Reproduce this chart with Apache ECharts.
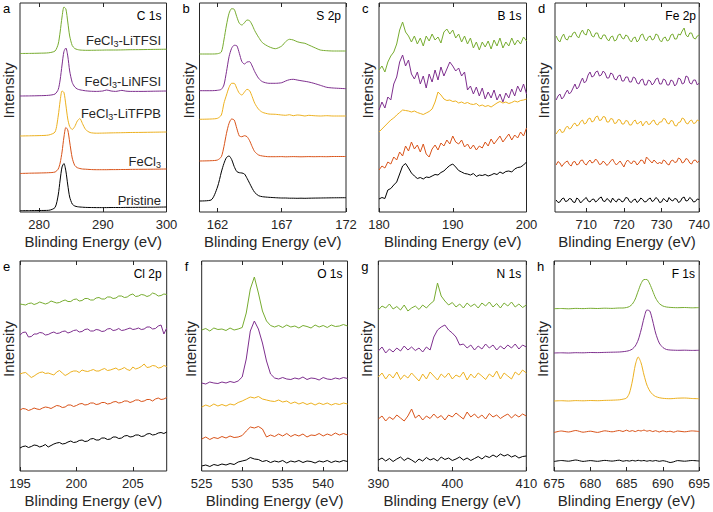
<!DOCTYPE html>
<html><head><meta charset="utf-8">
<script src="https://cdn.jsdelivr.net/npm/echarts@6/dist/echarts.min.js"></script>
<style>html,body{margin:0;padding:0;background:#fff}#c{width:713px;height:512px}</style>
</head><body><div id="c"></div>
<script>
// ---- series identity ----
const seriesNames = ['Pristine', 'FeCl3', 'FeCl3-LiTFPB', 'FeCl3-LiNFSI', 'FeCl3-LiTFSI'];
const seriesColors = ['#000000', '#D95319', '#EDB120', '#7E2F8E', '#77AC30'];

// ---- panel a : C 1s ----
const aTicks = [280, 290, 300];
const aEnergy = [277, 278.5, 280, 281.5, 282.5, 283, 283.3, 283.6, 283.9, 284.2, 284.5, 284.8, 285.2, 285.6, 286, 286.4, 286.8, 287.3, 288, 289, 290, 290.6, 291.3, 292, 293, 293.6, 294.3, 296, 298, 300];
const aPristine = [1.3, 1.4, 1.5, 1.7, 4.5, 17, 32, 45, 48.5, 41, 27, 15, 8, 6, 5.3, 5, 4.8, 4.6, 4.5, 4.4, 4.4, 4.4, 4.5, 4.5, 4.5, 4.6, 4.6, 4.7, 4.8, 5];
const aFeCl3 = [38.5, 38.8, 39, 39.3, 40, 43, 49, 60, 75, 84.5, 82, 70, 54, 46.5, 44.3, 43.5, 43, 42.8, 42.5, 42.3, 42.3, 42.3, 42.4, 42.4, 42.5, 42.5, 42.6, 42.7, 42.8, 43];
const aTFPB = [76, 76.2, 76.4, 77, 80, 96, 111, 121, 119.5, 107, 93, 85.5, 82.5, 85.5, 91, 93.5, 88.5, 82.5, 79.5, 78.8, 78.9, 79, 79.1, 79.2, 79.3, 79.4, 79.5, 79.6, 79.8, 80];
const aNFSI = [116, 116.1, 116.3, 116.7, 118, 122.5, 132, 147, 160.5, 164, 156, 141, 129.5, 125, 123, 122.2, 121.7, 121.2, 120.8, 120.6, 121, 122, 121, 120.6, 121.6, 120.9, 120.6, 120.6, 120.8, 121];
const aTFSI = [158.5, 158.6, 158.8, 159.2, 161, 168, 180, 195, 205, 203, 190, 176, 166.5, 163.5, 162.5, 162, 161.8, 161.7, 161.7, 161.8, 161.9, 162, 162, 162, 162.1, 162.2, 162.3, 162.4, 162.6, 162.8];

// ---- panel b : S 2p ----
const bTicks = [162, 167, 172];
const bEnergy = [160.6, 161.5, 162.0, 162.3, 162.5, 162.7, 162.9, 163.1, 163.3, 163.5, 163.7, 163.9, 164.1, 164.3, 164.5, 164.7, 164.9, 165.2, 165.5, 166, 166.5, 167, 167.3, 167.6, 167.9, 168.2, 168.5, 168.8, 169.1, 169.5, 170, 170.5, 171, 172];
const bPristine = [11, 12, 25, 40, 48.5, 54.5, 56, 52.5, 45.5, 40.5, 39.3, 39, 38, 33.7, 28.7, 23.7, 19.5, 16.3, 15.3, 14.7, 14.3, 14, 14, 13.8, 13.8, 13.7, 13.8, 13.7, 13.8, 13.9, 14, 14.1, 14.2, 14.3];
const bFeCl3 = [51, 51.3, 52, 55.3, 65.3, 78.7, 88.7, 93, 92, 83.7, 76, 75.3, 76.3, 75.3, 71.3, 65.3, 60.3, 57, 56, 55.3, 55.3, 55.4, 55.2, 55.3, 55.4, 55.3, 55.2, 55.3, 55.4, 55.3, 55.4, 55.3, 55.5, 55.5];
const bTFPB = [92.7, 93, 93.7, 97, 108.7, 117, 124.7, 128.7, 128.7, 123.7, 118.7, 117, 120, 122.7, 121.3, 115.3, 108.7, 102.7, 99.7, 98, 97.7, 97, 96.7, 97.3, 96.3, 97, 96.7, 96, 96.7, 96.3, 96, 96.3, 96, 96];
const bNFSI = [121.3, 121.3, 121.7, 122.7, 127, 140.3, 155.3, 163.7, 166.7, 166.3, 158.7, 150.3, 148, 150, 150.3, 146, 140.3, 133.7, 130.3, 128.7, 128.7, 129.3, 131, 132.3, 132.7, 132, 131.3, 130.7, 130, 128.7, 126.7, 124.7, 124, 123.3];
const bTFSI = [158, 158, 158.3, 160, 172, 187, 198.7, 203.3, 202.7, 195.3, 188.7, 187, 189.3, 192, 191.3, 187, 181.3, 174.7, 169.3, 165.3, 163.3, 166, 170.3, 172.7, 172, 170.3, 169.3, 168.7, 167, 164.7, 162, 161.3, 161, 161];

// ---- panel c : B 1s ----
const cTicks = [180, 190, 200];
const cEnergy = [180, 180.4, 180.8, 181.2, 181.6, 182, 182.4, 182.8, 183.2, 183.6, 184, 184.4, 184.8, 185.2, 185.6, 186, 186.4, 186.8, 187.2, 187.6, 188, 188.4, 188.8, 189.2, 189.6, 190, 190.4, 190.8, 191.2, 191.6, 192, 192.4, 192.8, 193.2, 193.6, 194, 194.4, 194.8, 195.2, 195.6, 196, 196.4, 196.8, 197.2, 197.6, 198, 198.4, 198.8, 199.2, 199.6, 200];
const cPristine = [13, 14.5, 13.5, 22, 23.5, 27, 30, 38, 46, 48.5, 44, 39, 36, 33.5, 34.5, 33, 35, 34.5, 36, 37.5, 37, 39.5, 41, 44, 46.5, 48, 45, 41.5, 40, 38.5, 38, 37, 38.5, 35.5, 37, 36.5, 37.5, 36, 37, 38.5, 37.5, 40, 38.5, 40.5, 41, 40, 43, 44.5, 45, 47, 50];
const cFeCl3 = [42, 46, 44, 50, 48, 55, 52, 60, 56, 66, 61, 70, 63, 67, 60, 68, 58, 55, 63, 67, 62, 69, 66, 72, 68, 76, 70, 68, 72, 65, 68, 63, 67, 62, 66, 64, 70, 66, 73, 68, 72, 76, 70, 74, 78, 72, 77, 74, 80, 76, 84];
const cTFPB = [80, 83, 86, 89, 92, 94, 97, 99.5, 102, 101.5, 101, 100, 101, 99.5, 98.5, 97.5, 99, 100.5, 103, 110, 120, 117, 113, 111.5, 112, 110.5, 111, 109, 110, 108.5, 109.5, 108, 107.5, 108.5, 106, 107, 105.5, 106.5, 105, 107, 109, 110.5, 109, 110, 108.5, 109.5, 111, 110, 111.5, 112, 113];
const cNFSI = [102, 110, 104, 115, 112, 128, 135, 150, 157, 146, 152, 138, 133, 140, 128, 136, 124, 138, 130, 142, 132, 145, 136, 143, 150, 146, 141, 144, 136, 140, 122, 126, 118, 125, 116, 124, 113, 120, 114, 122, 112, 118, 110, 119, 114, 123, 116, 126, 120, 128, 118];
const cTFSI = [142, 146, 140, 150, 156, 160, 168, 182, 190, 180, 176, 170, 176, 168, 174, 166, 176, 171, 178, 172, 175, 169, 180, 183, 178, 182, 174, 178, 170, 176, 168, 174, 164, 170, 162, 170, 165, 171, 163, 172, 166, 174, 164, 170, 166, 174, 167, 172, 168, 175, 171];

// ---- panel d : Fe 2p ----
const dTicks = [710, 720, 730, 740];
const dEnergy = [702, 702.5, 703, 703.5, 704, 704.5, 705, 705.5, 706, 706.5, 707, 707.5, 708, 708.5, 709, 709.5, 710, 710.5, 711, 711.5, 712, 712.5, 713, 713.5, 714, 714.5, 715, 715.5, 716, 716.5, 717, 717.5, 718, 718.5, 719, 719.5, 720, 720.5, 721, 721.5, 722, 722.5, 723, 723.5, 724, 724.5, 725, 725.5, 726, 726.5, 727, 727.5, 728, 728.5, 729, 729.5, 730, 730.5, 731, 731.5, 732, 732.5, 733, 733.5, 734, 734.5, 735, 735.5, 736, 736.5, 737, 737.5, 738, 738.5, 739, 739.5, 740];
const dPristine = [12, 9.5, 10, 13, 14, 10.5, 11, 13.5, 13, 10, 9.5, 14, 12.5, 9, 11, 13, 14.5, 11, 10, 12.5, 13, 10, 11.5, 14, 15, 11, 10.5, 13.5, 12, 9.5, 14, 11.5, 10, 13, 12.5, 10, 11, 14.5, 14, 10.5, 9.5, 12, 13, 9.5, 11, 14, 12.5, 10, 10.5, 13, 14, 10.5, 11.5, 14.5, 13, 9.5, 10, 13.5, 12, 10, 14.5, 12, 11, 13.5, 13, 9.5, 10.5, 14, 15, 11, 11.5, 14.5, 13, 10, 10.5, 13, 12.5];
const dFeCl3 = [47, 50.5, 49, 45.5, 48, 50, 51, 47.5, 46, 50, 50.5, 47, 48, 51.5, 52, 48.5, 47, 50, 52, 49, 50, 53, 51, 47.5, 48, 51, 49, 46.5, 48.5, 51, 53, 49.5, 47, 49, 51, 48, 45, 49.5, 52, 50, 48, 51, 50.5, 47, 49, 52, 51.5, 48, 55, 53, 51, 49, 52, 50, 48, 50, 48, 52, 51, 48, 47, 51, 52, 49.5, 50, 54, 53, 49, 50, 53.5, 52.5, 49, 48, 51.5, 52, 49.5, 51];
const dTFPB = [78, 81, 83, 79.5, 80, 84, 86, 83, 84, 87.5, 89, 86, 87, 90.5, 92, 88, 89, 93, 94, 90, 91, 95, 96, 91.5, 92, 95.5, 95, 90, 90, 93.5, 93, 88.5, 89, 92.5, 92, 88, 88, 91.5, 91, 87, 87, 90.5, 92, 88, 89, 91, 86, 89, 91, 87.5, 88, 91, 92, 88, 87, 90, 90, 93.5, 93, 89, 88, 91.5, 91, 86.5, 86, 89.5, 90, 94, 93, 89, 88, 91, 92, 88.5, 89, 92, 91];
const dNFSI = [112, 116, 118, 113, 115, 119, 122, 118, 120, 124, 128, 123, 125, 130, 134, 129, 131, 137, 140, 135, 136, 140, 141, 136, 137, 141, 139, 134, 134, 139, 138, 133, 132, 136, 137, 131, 131, 135, 135, 130, 130, 135, 134, 129, 128, 132, 133, 127, 127, 132, 131, 127, 129, 133, 134, 128, 128, 133, 132, 127, 127, 132, 131, 126, 128, 134, 133, 128, 129, 136, 135, 129, 128, 132, 132, 127, 129];
const dTFSI = [176, 172, 170, 175, 178, 173, 172, 176, 175, 179, 180, 176, 174, 179, 182, 178, 177, 183, 181, 176, 175, 179, 179, 174, 173, 177, 177, 173, 171, 175, 176, 171, 172, 177, 178, 174, 173, 177, 176, 172, 170, 174, 175, 170, 172, 177, 178, 173, 171, 175, 176, 172, 173, 178, 177, 172, 170, 174, 175, 171, 172, 177, 178, 173, 173, 178, 177, 181, 184, 177, 175, 179, 179, 174, 173, 176, 177];

// ---- panel e : Cl 2p ----
const eTicks = [195, 200, 205];
const eEnergy = [195, 195.25, 195.5, 195.75, 196, 196.25, 196.5, 196.75, 197, 197.25, 197.5, 197.75, 198, 198.25, 198.5, 198.75, 199, 199.25, 199.5, 199.75, 200, 200.25, 200.5, 200.75, 201, 201.25, 201.5, 201.75, 202, 202.25, 202.5, 202.75, 203, 203.25, 203.5, 203.75, 204, 204.25, 204.5, 204.75, 205, 205.25, 205.5, 205.75, 206, 206.25, 206.5, 206.75, 207, 207.25, 207.5, 207.75, 208];
const ePristine = [23, 24.5, 25, 23.5, 24.5, 26, 25.5, 24, 25, 26.5, 24, 25.5, 27, 28, 28.5, 27, 27.5, 29, 30, 28.5, 29, 30.5, 31, 29.5, 30, 32, 32.5, 31, 31, 33, 33, 31.5, 32, 34, 34, 32.5, 33, 35, 35.5, 34, 34.5, 36, 36, 34.5, 35, 37, 37.5, 36, 36.5, 38, 38.5, 37.5, 39];
const eFeCl3 = [61, 62.5, 62, 60.5, 61.5, 63, 62, 61.5, 63, 64, 63.5, 62.5, 64, 65.5, 65, 63.5, 64, 66, 66, 64.5, 65.5, 67, 67.5, 66, 66.5, 68, 68, 66.5, 67, 68.5, 68.5, 67, 67.5, 69, 69.5, 68, 68.5, 70, 70, 68.5, 69.5, 71, 71, 69.5, 70, 71.5, 71.5, 70, 72, 73, 71.5, 72, 73.5];
const eTFPB = [97, 98, 98.5, 96, 93.5, 95, 97, 98.5, 99, 97.5, 98, 97, 96, 99, 100.5, 98, 95.5, 97, 99, 100, 100, 98.5, 101, 100, 99.5, 100.5, 101.5, 100, 100, 101.5, 102.5, 100.5, 101, 102, 103, 101, 102, 103.5, 101.5, 100.5, 104, 102, 103, 104.5, 107, 103.5, 104, 105.5, 105, 103, 103.5, 105.5, 104.5];
const eNFSI = [136, 138.5, 139, 134, 134.5, 137, 137, 138.5, 138, 136, 136.5, 138, 139, 137.5, 138, 139.5, 140, 138, 139, 140.5, 141, 139, 139.5, 141.5, 142, 140, 140, 141.5, 141, 139.5, 140, 142, 142.5, 140.5, 141, 142.5, 140.5, 141, 142, 143, 141.5, 142, 143, 141.5, 142, 144, 144, 142, 142.5, 145, 146, 137, 143];
const eTFSI = [167, 166.5, 166, 167.5, 168, 166.5, 167.5, 169, 168, 167, 168, 170, 169, 168, 168.5, 170, 171, 169.5, 169.5, 171.5, 172, 170, 170.5, 172.5, 172.5, 171, 171, 173, 173.5, 172, 172, 174, 174, 172.5, 173, 175, 175, 173.5, 174, 176, 177, 174.5, 175, 176.5, 176, 174.5, 175.5, 178, 177, 175, 175.5, 177, 176.5];

// ---- panel f : O 1s ----
const fTicks = [525, 530, 535, 540];
const fEnergy = [525, 525.5, 526, 526.5, 527, 527.5, 528, 528.5, 529, 529.5, 530, 530.5, 531, 531.5, 532, 532.5, 533, 533.5, 534, 534.5, 535, 535.5, 536, 536.5, 537, 537.5, 538, 538.5, 539, 539.5, 540, 540.5, 541, 541.5, 542, 542.5, 543];
const fPristine = [5, 6, 4.5, 6.5, 5.5, 7, 6, 7.5, 6.5, 9, 10, 11, 13.5, 12, 11.5, 9.5, 10.5, 8.5, 10, 9, 10.5, 8, 10, 9, 10.5, 8.5, 10, 9.5, 8, 10, 9, 10.5, 8.5, 10, 9, 10.5, 9.5];
const fFeCl3 = [32, 34, 31.5, 33.5, 32.5, 34.5, 33, 35, 33.5, 34, 35.5, 40, 44, 43, 44.5, 42, 34, 36, 34.5, 37, 35, 37.5, 34.5, 36.5, 35, 37, 34, 36, 35.5, 37.5, 35, 37, 35.5, 38, 36, 37.5, 36];
const fTFPB = [64, 66, 64.5, 67, 65, 66.5, 65, 67, 66, 68.5, 70, 72, 74, 73, 74.5, 72, 71, 70, 69.5, 71, 69, 70, 67.5, 69, 67, 68.5, 66.5, 68, 66, 68, 66.5, 68, 66, 67.5, 66.5, 68, 67];
const fNFSI = [88, 87, 89, 88, 87.5, 89, 88, 89.5, 88.5, 90, 94, 112, 140, 150, 142, 128, 110, 97, 93, 92, 93.5, 92, 91.5, 93, 92, 94, 91.5, 93, 92.5, 91, 93.5, 92, 91.5, 93, 92, 93.5, 92.5];
const fTFSI = [141, 142.5, 140, 143, 141.5, 142, 140.5, 143, 141, 142, 143.5, 158, 182, 194, 178, 160, 150, 145.5, 144, 145.5, 143.5, 146, 144, 145, 143, 145.5, 144.5, 143, 146, 144, 145.5, 143.5, 146, 144.5, 145, 146.5, 145];

// ---- panel g : N 1s ----
const gTicks = [390, 400, 410];
const gEnergy = [390, 390.5, 391, 391.5, 392, 392.5, 393, 393.5, 394, 394.5, 395, 395.5, 396, 396.5, 397, 397.5, 398, 398.5, 399, 399.5, 400, 400.5, 401, 401.5, 402, 402.5, 403, 403.5, 404, 404.5, 405, 405.5, 406, 406.5, 407, 407.5, 408, 408.5, 409, 409.5, 410];
const gPristine = [11, 13, 10, 12.5, 9.5, 12, 14, 10.5, 13, 11, 8.5, 12, 10, 13.5, 11, 12.5, 10, 14, 11.5, 13, 10.5, 12, 14, 11, 13, 10.5, 12.5, 14.5, 12, 15, 13.5, 16, 14, 17, 15, 16.5, 14, 15.5, 13, 14.5, 15];
const gFeCl3 = [52, 55, 50, 54, 51.5, 56, 53, 50, 55, 62, 53, 56, 51, 55, 52.5, 57, 53, 55.5, 51, 56, 54, 58, 55, 52, 59, 54, 57, 53, 56, 52, 57.5, 54, 56, 52.5, 55, 57, 53, 56.5, 54, 57, 55];
const gTFPB = [94, 98, 92, 97, 93, 99, 91.5, 96, 93, 98, 94, 90, 97, 92, 99, 95, 91, 97, 93.5, 98, 92, 96, 94, 99, 91, 97, 93, 98, 95, 91.5, 97, 94, 100, 92, 98, 95, 92, 99, 96, 101, 98];
const gNFSI = [120, 124, 118, 122, 119, 123, 120, 125, 121, 124, 120.5, 123, 119, 124, 121, 134, 141, 144, 146, 141, 138, 134, 126, 127, 123, 126, 121, 125, 122, 127, 123, 126, 121, 125, 122, 126, 123, 127, 122, 126, 124];
const gTFSI = [161, 165, 163, 167, 162, 164.5, 161, 166, 160, 163, 165, 161.5, 166, 163, 167, 170, 188, 175, 170, 166, 168.5, 164, 167, 163, 168, 164.5, 167, 163, 168, 165, 169, 164, 167.5, 163, 168, 165, 169, 164, 167, 163.5, 166];

// ---- panel h : F 1s ----
const hTicks = [675, 680, 685, 690, 695];
const hEnergy = [675, 676, 677, 678, 679, 680, 681, 682, 683, 684, 684.5, 685, 685.4, 685.8, 686.2, 686.6, 687, 687.4, 687.8, 688.2, 688.6, 689, 689.5, 690, 690.5, 691, 691.5, 692, 693, 694, 695];
const hPristine = [9.5, 10.5, 9.8, 11, 9.6, 10.4, 9.7, 10.6, 9.9, 10.8, 9.8, 10.4, 9.9, 10.6, 10, 10.7, 10.1, 10.5, 9.8, 10.4, 9.9, 10.5, 9.7, 10.3, 9.6, 8.5, 9.2, 10.4, 9.8, 10.5, 10];
const hFeCl3 = [38.5, 40, 39, 40.5, 38.8, 39.8, 38.6, 40.2, 39.2, 40.5, 39.5, 40.8, 39.6, 40.4, 39.4, 40.6, 40, 41, 39.8, 40.5, 39.4, 40.3, 39, 40.2, 39.2, 39.8, 38.8, 40, 39.2, 40.1, 39.5];
const hTFPB = [70, 70.3, 70, 70.4, 70.2, 70.5, 70.3, 70.6, 70.8, 71.2, 71.8, 73, 78, 90, 106, 114, 108, 96, 86, 80, 76.5, 74.5, 73.3, 72.7, 72.4, 72.3, 72.5, 72.8, 73, 72.5, 72.3];
const hNFSI = [118, 118.2, 118, 118.3, 118.2, 118.5, 118.4, 118.6, 118.8, 119, 119.3, 119.8, 120.5, 122, 125, 131, 141, 153, 161, 160, 150, 138, 128, 123.5, 121.5, 121, 120.8, 120.7, 120.8, 120.6, 120.7];
const hTFSI = [162.3, 162.5, 162.2, 162.6, 162.4, 162.7, 162.5, 162.8, 162.6, 163, 163, 163.5, 164.5, 167, 172, 180, 187.5, 191.5, 191.5, 187, 180, 173, 167.5, 165, 164, 163.6, 163.4, 163.3, 163.5, 163.2, 163.4];

// ---- panel texts ----
const panelLetters = ['a', 'b', 'c', 'd', 'e', 'f', 'g', 'h'];
const elementLabels = ['C 1s', 'S 2p', 'B 1s', 'Fe 2p', 'Cl 2p', 'O 1s', 'N 1s', 'F 1s'];

// ---------------- build ----------------
const F = '"Liberation Sans", Arial, Helvetica, sans-serif';
const INK = '#262626';
const panels = [
  { e: aEnergy, ys: [aPristine, aFeCl3, aTFPB, aNFSI, aTFSI], min: 277, max: 300, ticks: aTicks, smooth: true },
  { e: bEnergy, ys: [bPristine, bFeCl3, bTFPB, bNFSI, bTFSI], min: 160.6, max: 172, ticks: bTicks, smooth: true },
  { e: cEnergy, ys: [cPristine, cFeCl3, cTFPB, cNFSI, cTFSI], min: 180, max: 200, ticks: cTicks, smooth: false },
  { e: dEnergy, ys: [dPristine, dFeCl3, dTFPB, dNFSI, dTFSI], min: 701.7, max: 740, ticks: dTicks, smooth: false },
  { e: eEnergy, ys: [ePristine, eFeCl3, eTFPB, eNFSI, eTFSI], min: 195, max: 208, ticks: eTicks, smooth: false },
  { e: fEnergy, ys: [fPristine, fFeCl3, fTFPB, fNFSI, fTFSI], min: 525, max: 543, ticks: fTicks, smooth: false },
  { e: gEnergy, ys: [gPristine, gFeCl3, gTFPB, gNFSI, gTFSI], min: 390, max: 410, ticks: gTicks, smooth: false },
  { e: hEnergy, ys: [hPristine, hFeCl3, hTFPB, hNFSI, hTFSI], min: 675, max: 695, ticks: hTicks, smooth: true }
];
// layout boxes [left, top, width, height]
const boxes = [
  [20, 3, 146.5, 209], [199.5, 3, 146.5, 209], [379, 3, 147.5, 209], [555, 3, 146, 209],
  [20, 261, 146.7, 210], [201.7, 261, 145.8, 210], [378.3, 261, 148, 210], [554, 261, 146, 210]
];

const grid = [], xAxis = [], yAxis = [], series = [], graphic = [];
panels.forEach((p, i) => {
  const b = boxes[i];
  grid.push({ left: b[0], top: b[1], width: b[2], height: b[3], show: true, borderColor: INK, borderWidth: 1, backgroundColor: 'transparent' });
  xAxis.push({
    gridIndex: i, type: 'value', min: p.min, max: p.max, position: 'bottom',
    axisLine: { show: false }, splitLine: { show: false },
    axisTick: { show: true, inside: true, length: 4, customValues: p.ticks, lineStyle: { color: INK, width: 1 } },
    axisLabel: { show: true, customValues: p.ticks, margin: 6, fontSize: 13, color: INK, fontFamily: F },
    name: 'Blinding Energy (eV)', nameLocation: 'middle', nameGap: 22,
    nameTextStyle: { fontSize: 15, color: INK, fontFamily: F }
  });
  xAxis.push({
    gridIndex: i, type: 'value', min: p.min, max: p.max, position: 'top',
    axisLine: { show: false }, splitLine: { show: false }, axisLabel: { show: false },
    axisTick: { show: true, inside: true, length: 4, customValues: p.ticks, lineStyle: { color: INK, width: 1 } }
  });
  yAxis.push({
    gridIndex: i, type: 'value', min: 0, max: b[3],
    axisLine: { show: false }, axisTick: { show: false }, axisLabel: { show: false }, splitLine: { show: false },
    name: 'Intensity', nameLocation: 'middle', nameGap: 4,
    nameTextStyle: { fontSize: 15, color: INK, fontFamily: F, padding: [0, 0, 0, 34] }
  });
  p.ys.forEach((ys, k) => {
    series.push({
      name: seriesNames[k], type: 'line', xAxisIndex: 2 * i, yAxisIndex: i,
      data: p.e.map((x, j) => [x, ys[j]]),
      showSymbol: false, symbol: 'none', smooth: p.smooth ? 0.25 : false,
      lineStyle: { width: 1, color: seriesColors[k] }, itemStyle: { color: seriesColors[k] },
      silent: true, animation: false
    });
  });
  graphic.push({
    type: 'text', x: (i % 4 === 0 ? 3 : b[0] - 17), y: b[1] + 5,
    style: { text: panelLetters[i], fontSize: 13, fontFamily: F, fill: '#000', align: 'left', verticalAlign: 'middle' }
  });
  graphic.push({
    type: 'text', x: b[0] + b[2] - 5, y: b[1] + 12.5,
    style: { text: elementLabels[i], fontSize: 12, fontFamily: F, fill: '#000', align: 'right', verticalAlign: 'middle' }
  });
});

// series labels in panel a
const labelText = [
  'Pristine',
  '{n|FeCl}{s|3}',
  '{n|FeCl}{s|3}{n|-LiTFPB}',
  '{n|FeCl}{s|3}{n|-LiNFSI}',
  '{n|FeCl}{s|3}{n|-LiTFSI}'
];
const labelY = [200, 161, 113, 81, 40];
labelText.forEach((t, k) => {
  graphic.push({
    type: 'text', x: 161, y: labelY[k],
    style: {
      text: t, fontSize: 13, fontFamily: F, fill: INK, align: 'right', verticalAlign: 'middle',
      rich: {
        n: { fontSize: 13, fontFamily: F, fill: INK },
        s: { fontSize: 9, fontFamily: F, fill: INK, padding: [8, 0, 0, 0] }
      }
    }
  });
});

const chart = echarts.init(document.getElementById('c'), null, { renderer: 'svg' });
chart.setOption({ animation: false, backgroundColor: '#fff', grid, xAxis, yAxis, series, graphic });
</script>
</body></html>
